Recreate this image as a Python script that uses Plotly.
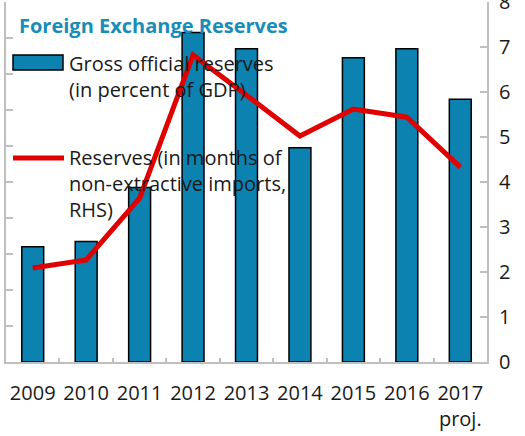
import plotly.graph_objects as go

years = ["2009", "2010", "2011", "2012", "2013", "2014", "2015", "2016", "2017"]
tick_labels = ["2009", "2010", "2011", "2012", "2013", "2014", "2015", "2016", "2017<br>proj."]
gross_reserves_pct_gdp = [6.4, 6.7, 9.7, 18.3, 17.4, 11.9, 16.9, 17.4, 14.6]
reserves_months_imports = [2.09, 2.27, 3.64, 6.82, 5.93, 5.02, 5.62, 5.44, 4.33]

BAR_COLOR = "#0b82b0"
LINE_COLOR = "#e00000"
AXIS_COLOR = "#bfbfbf"
FONT = "Open Sans"
FS = 20

fig = go.Figure()
fig.add_trace(go.Bar(
    x=years, y=gross_reserves_pct_gdp, yaxis="y",
    marker=dict(color=BAR_COLOR, line=dict(color="#000000", width=1.5)),
    width=0.41, showlegend=False, name="Gross official reserves (in percent of GDP)",
))
fig.add_trace(go.Scatter(
    x=years, y=reserves_months_imports, yaxis="y2", mode="lines",
    line=dict(color=LINE_COLOR, width=5), showlegend=False,
    name="Reserves (in months of non-extractive imports, RHS)",
))

fig.update_layout(
    width=525, height=436,
    margin=dict(l=6, r=38, t=2, b=74, autoexpand=False),
    paper_bgcolor="white", plot_bgcolor="white",
    font=dict(family=FONT, size=FS, color="#1a1a1a"),
    xaxis=dict(
        type="category", tickmode="array", tickvals=years, ticktext=tick_labels,
        showline=True, linecolor=AXIS_COLOR, linewidth=2, tickangle=0,
        ticks="inside", tickson="boundaries", ticklen=4, tickcolor=AXIS_COLOR, tickwidth=1.5,
        showgrid=False, zeroline=False, tickfont=dict(size=FS), ticklabelstandoff=12,
        automargin=False,
    ),
    yaxis=dict(
        range=[0, 20], dtick=2, showticklabels=False,
        showline=True, linecolor=AXIS_COLOR, linewidth=2,
        ticks="inside", ticklen=7, tickcolor=AXIS_COLOR, tickwidth=1.5,
        showgrid=False, zeroline=False, automargin=False,
    ),
    yaxis2=dict(
        range=[0, 8], dtick=1, overlaying="y", side="right",
        showline=True, linecolor=AXIS_COLOR, linewidth=2,
        ticks="inside", ticklen=7, tickcolor=AXIS_COLOR, tickwidth=1.5,
        showgrid=False, zeroline=False, tickfont=dict(size=FS), ticklabelstandoff=6,
        ticklabeloverflow="allow", automargin=False,
    ),
)

def px_x(px):
    return (px - 6) / 481

def px_y(py):
    return 1 - (py - 2) / 360

# Title
fig.add_annotation(
    text="<b>Foreign Exchange Reserves</b>", xref="paper", yref="paper",
    x=px_x(17), y=px_y(25), xanchor="left", yanchor="middle",
    showarrow=False, font=dict(family=FONT, size=20, color="#1a8cb8"),
)

# Manual legend
fig.add_shape(type="rect", xref="paper", yref="paper",
              x0=px_x(13), x1=px_x(63), y0=px_y(70), y1=px_y(55),
              fillcolor=BAR_COLOR, line=dict(color="#000000", width=1.5), layer="above")
fig.add_annotation(
    text="Gross official reserves<br>(in percent of GDP)", xref="paper", yref="paper",
    x=px_x(67), y=px_y(48), xanchor="left", yanchor="top", align="left",
    showarrow=False, font=dict(family=FONT, size=FS, color="#1a1a1a"),
)
fig.add_shape(type="line", xref="paper", yref="paper",
              x0=px_x(13), x1=px_x(64), y0=px_y(158), y1=px_y(158),
              line=dict(color=LINE_COLOR, width=5), layer="above")
fig.add_annotation(
    text="Reserves (in months of<br>non-extractive imports,<br>RHS)", xref="paper", yref="paper",
    x=px_x(67), y=px_y(142), xanchor="left", yanchor="top", align="left",
    showarrow=False, font=dict(family=FONT, size=FS, color="#1a1a1a"),
)

fig.write_html("out.html", config={"displayModeBar": False},
               post_script="document.body.style.margin='0px';")
